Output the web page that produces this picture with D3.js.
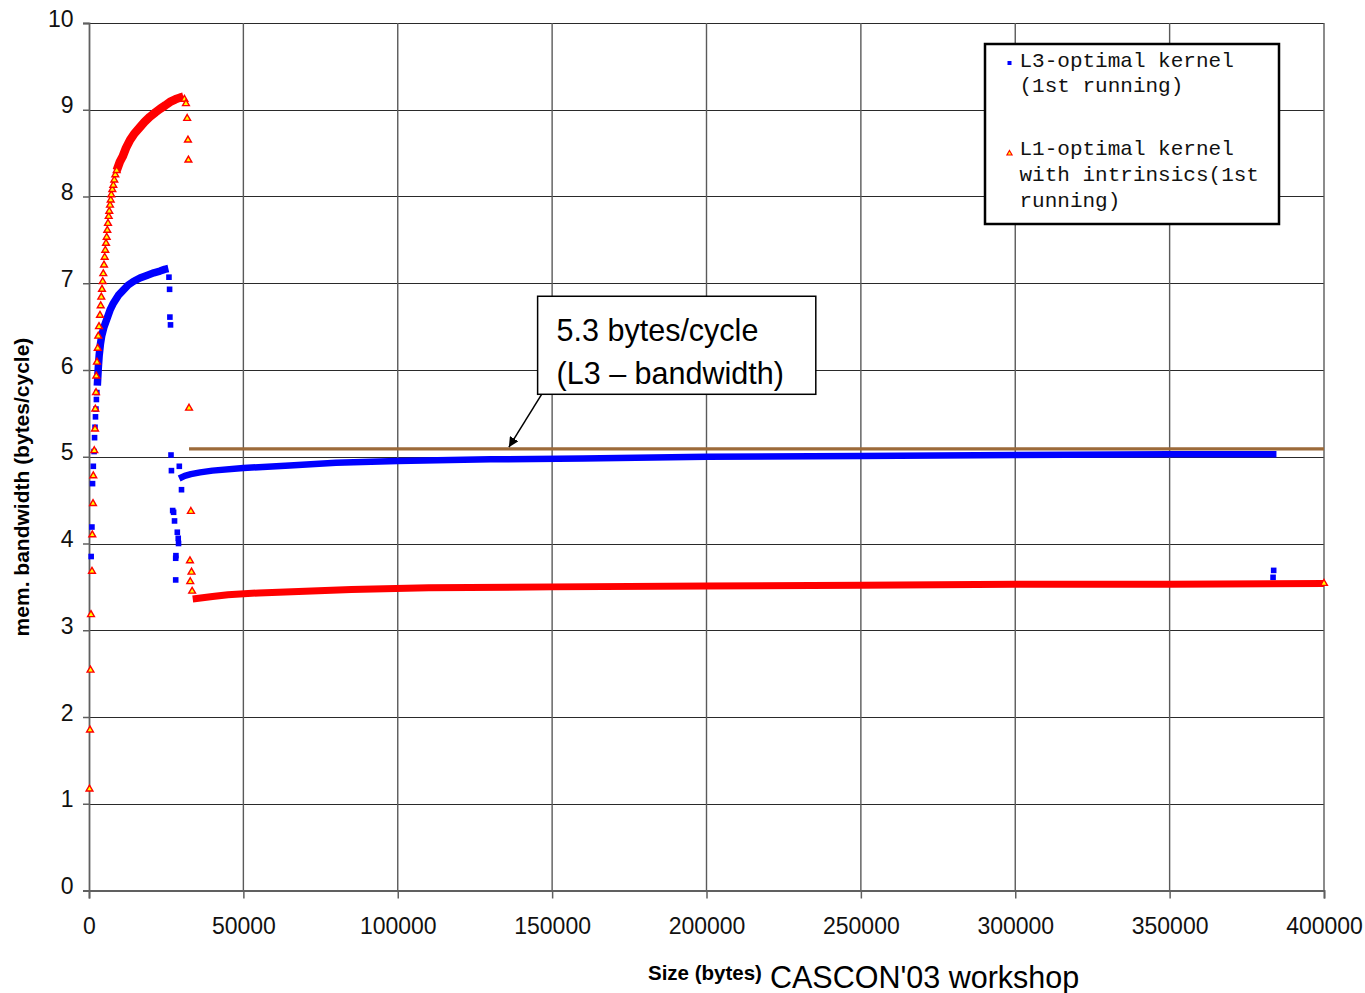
<!DOCTYPE html>
<html>
<head>
<meta charset="utf-8">
<script src="https://cdn.jsdelivr.net/npm/d3@7"></script>
<style>
  html, body { margin: 0; padding: 0; background: #fff; }
  svg { display: block; font-family: "Liberation Sans", Arial, sans-serif; }
</style>
</head>
<body>
<svg id="chart" width="1365" height="993"></svg>
<script>
// ---------------- DATA ----------------
const xTicks = [0, 50000, 100000, 150000, 200000, 250000, 300000, 350000, 400000];
const yTicks = [0, 1, 2, 3, 4, 5, 6, 7, 8, 9, 10];

// L3-optimal kernel (1st running) – isolated markers
const l3SparseX = [700, 950, 1150, 1400, 1650, 1800, 1950, 2100, 2250, 2400, 2550,
  25900, 26100, 26200, 26400, 26560, 26700, 27100, 27400, 27700, 28080, 28150, 28080,
  28600, 28900, 29000, 29250, 29960, 383500, 383700];
const l3SparseY = [3.85, 4.19, 4.69, 4.89, 5.06, 5.22, 5.34, 5.46, 5.55, 5.66, 5.74,
  7.07, 6.93, 6.61, 6.52, 5.02, 4.84, 4.38, 4.36, 4.26, 3.83, 3.86, 3.58,
  4.13, 4.06, 4.00, 4.89, 4.62, 3.61, 3.69];
// L3 – dense rising run
const l3RiseX = [2700, 3000, 3300, 3700, 4100, 4800, 5700, 6800, 7900, 9500, 11100, 12700,
  14350, 16500, 18700, 21000, 23000, 24500, 25700];
const l3RiseY = [5.82, 6.02, 6.17, 6.30, 6.39, 6.49, 6.58, 6.69, 6.77, 6.86, 6.92, 6.98,
  7.02, 7.06, 7.09, 7.12, 7.14, 7.16, 7.17];
// L3 – dense flat run
const l3FlatX = [29200, 31000, 33000, 36000, 40000, 50000, 65000, 80000, 100000, 130000,
  160000, 200000, 250000, 300000, 350000, 384600];
const l3FlatY = [4.75, 4.78, 4.80, 4.82, 4.84, 4.87, 4.90, 4.93, 4.95, 4.97,
  4.98, 5.00, 5.01, 5.02, 5.03, 5.03];

// L1-optimal kernel with intrinsics (1st running) – isolated markers
const l1SparseX = [160, 320, 490, 650, 970, 1070, 1300, 1390, 1720, 1940, 2040, 2270, 2360,
  2590, 2820, 3010, 3240, 3560, 3790, 3980, 4210, 4440, 4630, 4860, 5080, 5280, 5510,
  5730, 5930, 6150, 6380, 6570, 6800, 7030, 7220, 7550, 7870, 8190, 8520, 8970,
  30900, 31400, 31800, 32050, 32200, 32400, 33000, 32700, 33200, 32800, 33400, 400000];
const l1SparseY = [1.17, 1.85, 2.54, 3.18, 3.68, 4.10, 4.46, 4.78, 5.07, 5.32, 5.55, 5.74, 5.93,
  6.09, 6.25, 6.39, 6.50, 6.63, 6.74, 6.84, 6.93, 7.02, 7.11, 7.21, 7.30, 7.38, 7.46,
  7.53, 7.61, 7.69, 7.77, 7.83, 7.90, 7.96, 8.02, 8.08, 8.13, 8.19, 8.25, 8.30,
  9.12, 9.07, 8.90, 8.65, 8.42, 5.56, 4.37, 3.80, 3.67, 3.56, 3.45, 3.54];
// L1 – dense rising run
const l1RiseX = [8970, 10000, 10900, 12000, 13280, 14800, 16520, 18000, 19760, 21500,
  23000, 24700, 26240, 28000, 29470, 30550];
const l1RiseY = [8.30, 8.40, 8.46, 8.56, 8.65, 8.73, 8.80, 8.86, 8.92, 8.97,
  9.01, 9.05, 9.09, 9.12, 9.14, 9.15];
// L1 – dense flat run
const l1FlatX = [33600, 40000, 45000, 55000, 70000, 85000, 110000, 150000, 200000,
  250000, 300000, 350000, 400000];
const l1FlatY = [3.36, 3.39, 3.41, 3.43, 3.45, 3.47, 3.49, 3.50, 3.51,
  3.52, 3.53, 3.53, 3.54];

// Reference line (L3 bandwidth)
const refX = [32400, 400000];
const refY = [5.09, 5.09];

const legendLabels = [["L3-optimal kernel", "(1st running)"],
                      ["L1-optimal kernel", "with intrinsics(1st", "running)"]];
const noteLines = ["5.3 bytes/cycle", "(L3 \u2013 bandwidth)"];
const yTitle = "mem. bandwidth (bytes/cycle)";
const xTitle = "Size (bytes)";
const footer = "CASCON'03 workshop";

// ---------------- DRAWING ----------------
const svg = d3.select("#chart");
const x = d3.scaleLinear().domain([0, 400000]).range([89, 1324]);
const y = d3.scaleLinear().domain([0, 10]).range([890.5, 23]);

const zip = (a, b) => a.map((v, i) => [v, b[i]]);

// Grid
svg.append("g").selectAll("line").data(yTicks.slice(1)).join("line")
  .attr("x1", x(0)).attr("x2", x(400000))
  .attr("y1", d => Math.round(y(d)) + 0.5).attr("y2", d => Math.round(y(d)) + 0.5)
  .attr("stroke", "#2a2a2a").attr("stroke-width", 1);
svg.append("g").selectAll("line").data(xTicks.slice(1)).join("line")
  .attr("x1", d => x(d)).attr("x2", d => x(d))
  .attr("y1", y(10)).attr("y2", y(0))
  .attr("stroke", "#5a5a5a").attr("stroke-width", 1.4);

// Axes
const yAxis = d3.axisLeft(y).tickValues(yTicks).tickSize(6).tickPadding(9.5).tickFormat(d3.format("d"));
const gy = svg.append("g").attr("transform", `translate(${x(0)},0)`).call(yAxis);
gy.select(".domain").attr("stroke", "#606060").attr("stroke-width", 1.8);
gy.selectAll(".tick line").attr("stroke", "#606060").attr("stroke-width", 1.5);
gy.selectAll(".tick text").attr("font-size", 23).attr("fill", "#111")
  .attr("font-family", "Liberation Sans, Arial, sans-serif").attr("dy", "0.14em");

const xAxis = d3.axisBottom(x).tickValues(xTicks).tickSize(8).tickPadding(19).tickFormat(d3.format("d"));
const gx = svg.append("g").attr("transform", `translate(0,${y(0)})`).call(xAxis);
gx.select(".domain").attr("stroke", "#606060").attr("stroke-width", 1.8);
gx.selectAll(".tick line").attr("stroke", "#606060").attr("stroke-width", 1.5);
gx.selectAll(".tick text").attr("font-size", 23).attr("fill", "#111")
  .attr("font-family", "Liberation Sans, Arial, sans-serif");

const line = d3.line().x(d => x(d[0])).y(d => y(d[1]));
const blue = "#0000ff", red = "#ff0000";

// L3 series (blue squares)
[[zip(l3RiseX, l3RiseY), 7.5], [zip(l3FlatX, l3FlatY), 6.5]].forEach(([run, w]) => {
  svg.append("path").datum(run).attr("d", line)
    .attr("fill", "none").attr("stroke", blue).attr("stroke-width", w)
    .attr("stroke-linejoin", "round");
});
svg.append("g").selectAll("rect").data(zip(l3SparseX, l3SparseY)).join("rect")
  .attr("x", d => x(d[0]) - 2.8).attr("y", d => y(d[1]) - 2.8)
  .attr("width", 5.6).attr("height", 5.6).attr("fill", blue);

// L1 series (red/yellow triangles)
[[zip(l1RiseX, l1RiseY), 8.5], [zip(l1FlatX, l1FlatY), 7]].forEach(([run, w]) => {
  svg.append("path").datum(run).attr("d", line)
    .attr("fill", "none").attr("stroke", red).attr("stroke-width", w)
    .attr("stroke-linejoin", "round");
});
const tri = d3.symbol().type(d3.symbolTriangle).size(20);
svg.append("g").selectAll("path").data(zip(l1SparseX, l1SparseY)).join("path")
  .attr("d", tri)
  .attr("transform", d => `translate(${x(d[0])},${y(d[1])})`)
  .attr("fill", "#ffff00").attr("stroke", red).attr("stroke-width", 1.4);

// Reference line
svg.append("path").datum(zip(refX, refY)).attr("d", line)
  .attr("stroke", "#9c6a3a").attr("stroke-width", 3.2).attr("fill", "none");

// Annotation callout
const bx0 = x(145300), bx1 = x(235400), by0 = y(6.85), by1 = y(5.72);
svg.append("rect").attr("x", bx0).attr("y", by0)
  .attr("width", bx1 - bx0).attr("height", by1 - by0)
  .attr("fill", "#fff").attr("stroke", "#000").attr("stroke-width", 1.5);
svg.append("text").attr("x", bx0 + 19).attr("y", by0 + 45)
  .attr("font-size", 30.5).attr("fill", "#000").text(noteLines[0]);
svg.append("text").attr("x", bx0 + 19).attr("y", by0 + 88)
  .attr("font-size", 30.5).attr("fill", "#000").text(noteLines[1]);
svg.append("defs").append("marker").attr("id", "arrow")
  .attr("viewBox", "0 0 10 10").attr("refX", 10).attr("refY", 5)
  .attr("markerWidth", 10).attr("markerHeight", 10).attr("markerUnits", "userSpaceOnUse")
  .attr("orient", "auto")
  .append("path").attr("d", "M0,0 L10,5 L0,10 z").attr("fill", "#000");
svg.append("line").attr("x1", bx0 + 4).attr("y1", by1)
  .attr("x2", x(136000)).attr("y2", y(5.11))
  .attr("stroke", "#000").attr("stroke-width", 1.5).attr("marker-end", "url(#arrow)");

// Legend
const lg = svg.append("g");
lg.append("rect").attr("x", 985).attr("y", 44).attr("width", 294).attr("height", 180)
  .attr("fill", "#fff").attr("stroke", "#000").attr("stroke-width", 2.5);
lg.append("rect").attr("x", 1007.5).attr("y", 61).attr("width", 4).attr("height", 4).attr("fill", blue);
lg.append("path").attr("d", d3.symbol().type(d3.symbolTriangle).size(12))
  .attr("transform", "translate(1009.5,153.5)")
  .attr("fill", "#ffff00").attr("stroke", red).attr("stroke-width", 1.1);
const legY = [[66.5, 92.3], [155, 181, 206.5]];
legendLabels.forEach((lines, i) => {
  lines.forEach((t, j) => {
    lg.append("text").attr("x", 1019.5).attr("y", legY[i][j])
      .attr("font-family", "Liberation Mono, Courier New, monospace")
      .attr("font-size", 21).attr("fill", "#111").attr("xml:space", "preserve").text(t);
  });
});

// Axis titles
svg.append("text").attr("transform", "translate(29,487) rotate(-90)")
  .attr("text-anchor", "middle").attr("font-weight", "bold").attr("font-size", 21)
  .attr("fill", "#000").text(yTitle);
svg.append("text").attr("x", 648).attr("y", 980)
  .attr("font-weight", "bold").attr("font-size", 20.5).attr("fill", "#000").text(xTitle);
svg.append("text").attr("x", 770).attr("y", 988)
  .attr("font-size", 30.5).attr("fill", "#000").text(footer);
</script>
</body>
</html>
